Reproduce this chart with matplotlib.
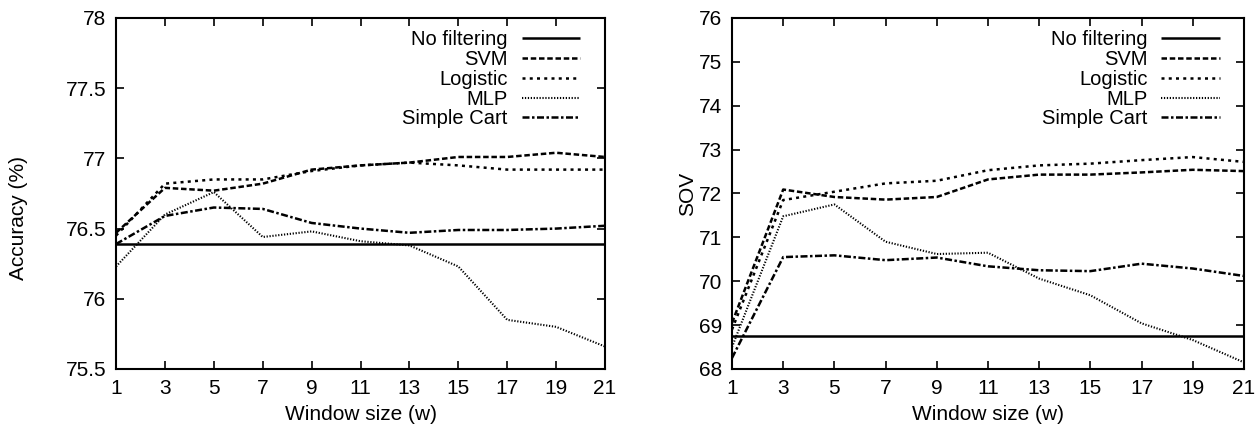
import matplotlib
matplotlib.use('Agg')
import matplotlib.pyplot as plt
from matplotlib.ticker import FormatStrFormatter, MultipleLocator

plt.rcParams['font.family'] = ['Liberation Sans', 'DejaVu Sans']

# window sizes
window = [1, 3, 5, 7, 9, 11, 13, 15, 17, 19, 21]
labels = ['No filtering', 'SVM', 'Logistic', 'MLP', 'Simple Cart']

# accuracy (%)
acc_nofilter = 76.39
acc_svm = [76.47, 76.79, 76.77, 76.82, 76.92, 76.95, 76.97, 77.01, 77.01, 77.04, 77.01]
acc_logistic = [76.45, 76.82, 76.85, 76.85, 76.91, 76.95, 76.97, 76.95, 76.92, 76.92, 76.92]
acc_mlp = [76.23, 76.60, 76.76, 76.44, 76.48, 76.41, 76.38, 76.23, 75.85, 75.80, 75.66]
acc_cart = [76.39, 76.59, 76.65, 76.64, 76.54, 76.50, 76.47, 76.49, 76.49, 76.50, 76.52]

# SOV
sov_nofilter = 68.75
sov_svm = [69.05, 72.09, 71.92, 71.86, 71.92, 72.32, 72.43, 72.43, 72.48, 72.54, 72.51]
sov_logistic = [68.9, 71.85, 72.04, 72.23, 72.29, 72.53, 72.64, 72.68, 72.76, 72.83, 72.72]
sov_mlp = [68.5, 71.48, 71.75, 70.90, 70.62, 70.65, 70.06, 69.68, 69.04, 68.66, 68.15]
sov_cart = [68.25, 70.55, 70.59, 70.48, 70.54, 70.34, 70.25, 70.23, 70.40, 70.29, 70.12]

# gnuplot-like line styles
styles = [
    dict(lw=1.8, ls='-'),
    dict(lw=1.8, ls=(0, (2.2, 1.1))),
    dict(lw=1.8, ls=(0, (1.2, 1.7))),
    dict(lw=1.5, ls=(0, (0.6, 0.8))),
    dict(lw=1.8, ls=(0, (2.8, 1.0, 1.0, 1.0))),
]


def draw(ax, nofilter, series, ylim, ystep, ylabel, label_xy, anchor):
    ax.plot(window, [nofilter] * len(window), color='black', label=labels[0],
            solid_capstyle='butt', **styles[0])
    for lab, vals, st in zip(labels[1:], series, styles[1:]):
        ax.plot(window, vals, color='black', label=lab, dash_capstyle='butt', **st)
    ax.set_xlim(1, 21)
    ax.set_ylim(*ylim)
    ax.set_xticks(window)
    ax.yaxis.set_major_locator(MultipleLocator(ystep))
    ax.yaxis.set_major_formatter(FormatStrFormatter('%g'))
    ax.tick_params(direction='in', length=6, width=1.2, top=True, right=True,
                   labelsize=15, pad=7)
    for sp in ax.spines.values():
        sp.set_linewidth(1.5)
    ax.set_xlabel('Window size (w)', fontsize=15, labelpad=5)
    ax.set_ylabel(ylabel, fontsize=15)
    ax.yaxis.set_label_coords(*label_xy)
    ax.legend(loc='upper right', bbox_to_anchor=anchor, frameon=False,
              markerfirst=False, fontsize=14.5, handlelength=2.9,
              handletextpad=0.7, labelspacing=0.04, borderpad=0, borderaxespad=0)


fig = plt.figure(figsize=(12.56, 4.3), dpi=100)
ax1 = fig.add_axes([0.0924, 0.1419, 0.3893, 0.8163])
ax2 = fig.add_axes([0.5828, 0.1419, 0.4076, 0.8163])

draw(ax1, acc_nofilter, [acc_svm, acc_logistic, acc_mlp, acc_cart],
     (75.5, 78), 0.5, 'Accuracy (%)', (-0.18, 0.43), (0.949, 0.965))
draw(ax2, sov_nofilter, [sov_svm, sov_logistic, sov_mlp, sov_cart],
     (68, 76), 1, 'SOV', (-0.068, 0.5), (0.953, 0.965))

fig.savefig('out.png', dpi=100)
